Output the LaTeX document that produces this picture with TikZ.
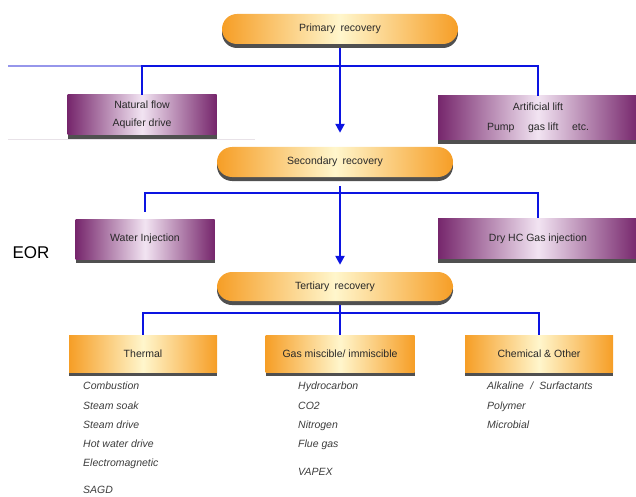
\documentclass[tikz,border=0pt]{standalone}
\usepackage{fontspec}
\setmainfont{Liberation Sans}
\usetikzlibrary{positioning,shadows,arrows.meta}

\definecolor{orangeedge}{RGB}{246,158,38}
\definecolor{orangemid}{RGB}{255,246,204}
\definecolor{purpedge}{RGB}{118,38,108}
\definecolor{purpmid}{RGB}{242,228,242}
\definecolor{flowblue}{RGB}{12,20,225}
\definecolor{paleblue}{RGB}{150,150,235}
\definecolor{paleline}{RGB}{232,226,232}
\definecolor{shadowgray}{RGB}{80,80,80}
\definecolor{labelgray}{RGB}{40,40,40}
\definecolor{listgray}{RGB}{60,60,60}

\begin{document}
\begin{tikzpicture}[
    x=1pt, y=-1pt,
    label/.style={font=\fontsize{10.5}{12}\selectfont, text=labelgray, align=center},
    stage/.style={label, rectangle, rounded corners=15pt, minimum width=236pt, minimum height=30pt,
        left color=orangeedge, right color=orangeedge, middle color=orangemid,
        general shadow={fill=shadowgray, shadow yshift=-4pt}},
    branch/.style={label, rectangle, minimum width=149pt, minimum height=40pt,
        left color=purpedge, right color=purpedge, middle color=purpmid,
        general shadow={fill=shadowgray, shadow yshift=-4pt}},
    method/.style={label, rectangle, minimum width=148pt, minimum height=37pt,
        left color=orangeedge, right color=orangeedge, middle color=orangemid,
        general shadow={fill=shadowgray, shadow yshift=-4pt}},
    list/.style={anchor=north west, inner sep=0pt, align=left, text=listgray,
        font=\fontsize{10.5}{19.2}\selectfont\itshape},
    flow/.style={draw=flowblue, line width=2.6pt},
    arrow/.style={flow, -{Triangle[width=9pt,length=9pt]}}
]
\useasboundingbox (0,0) rectangle (636,497);

% Primary recovery
\node[stage] (prim) at (340,29) {Primary\hspace{0.5em}recovery};
\node[branch] (natflow) at (142,115) {Natural flow\\[6pt]Aquifer drive};
\node[branch, minimum width=200pt, minimum height=44pt] (artlift) at (538,118)
    {Artificial lift\\[8pt]Pump\hspace{1.3em}gas lift\hspace{1.3em}etc.};

% Secondary recovery
\node[stage] (sec) at (335,162) {Secondary\hspace{0.5em}recovery};
\node[branch, minimum width=139pt] (water) at (145,239) {Water Injection};
\node[branch, minimum width=200pt] (dryhc) at (538,238.5) {Dry HC Gas injection};

% EOR
\node[font=\fontsize{17}{20}\selectfont] (eor) at (31,253) {EOR};

% Tertiary recovery
\node[stage, minimum height=29pt] (ter) at (335,286.5) {Tertiary\hspace{0.5em}recovery};
\node[method] (thermal) at (143,353.5) {Thermal};
\node[method, minimum width=149pt] (gas) at (340,353.5) {Gas miscible/ immiscible};
\node[method] (chem) at (539,353.5) {Chemical \& Other};

% Methods
\node[list] (thermlist) at (83,382) {Combustion\\Steam soak\\Steam drive\\Hot water drive\\Electromagnetic\\[8pt]SAGD};
\node[list] (gaslist) at (298,382) {Hydrocarbon\\CO2\\Nitrogen\\Flue gas\\[9pt]VAPEX};
\node[list] (chemlist) at (487,382) {Alkaline\hspace{0.6em}/\hspace{0.6em}Surfactants\\Polymer\\Microbial};

% Hubs
\coordinate (hubA) at (340,66);
\coordinate (hubB) at (340,193);
\coordinate (hubC) at (340,313);
\coordinate (edgeA) at (8,66);
\coordinate (edgeB) at (8,140);
\coordinate (edgeC) at (255,140);

% Faint lines
\draw[paleblue, line width=1.4pt] (edgeA) -- (natflow.north |- hubA);
\draw[paleline, line width=1pt] (edgeB) -- (edgeC);

% Connectors
\draw[arrow, shorten <=4pt, shorten >=14pt] (prim.south) -- (prim.south |- sec.north);
\draw[flow] (natflow.north) |- (hubA) -| (artlift.north);

\draw[arrow, shorten <=9pt, shorten >=7pt] (hubB |- sec.south) -- (hubB |- ter.north);
\draw[flow, shorten <=7pt] (water.north) |- (hubB) -| (dryhc.north);

\draw[flow, shorten <=4pt] (hubC |- ter.south) -- (gas.north);
\draw[flow] (thermal.north) |- (hubC) -| (chem.north);

\end{tikzpicture}
\end{document}
